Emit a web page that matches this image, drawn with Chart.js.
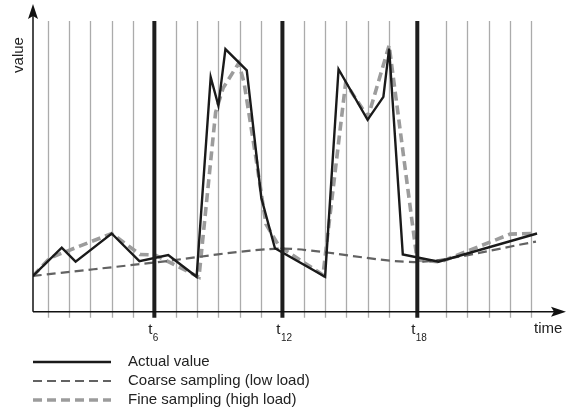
<!DOCTYPE html>
<html>
<head>
<meta charset="utf-8">
<script src="https://cdn.jsdelivr.net/npm/chart.js@4/dist/chart.umd.min.js"></script>
<style>
  html, body { margin: 0; padding: 0; background: #ffffff; }
  #wrap { width: 566px; height: 413px; }
</style>
</head>
<body>
<div id="wrap"><canvas id="c" width="566" height="413"></canvas></div>
<script>
// ---- data (time in sampling-interval units, value in 0..100) ----
const gridTimes = [1, 2, 3, 4, 5, 7, 8, 9, 10, 11, 13, 14, 15, 16, 17, 19.67, 20.67, 21.67, 22.67, 23.67];
const markTimes = [6, 12, 18.32];
const markLabels = ['6', '12', '18'];

const actualT = [0.31, 1.66, 2.31, 4.0, 5.30, 6.65, 7.98, 8.64, 9.0, 9.33, 10.33, 11.01, 11.65, 14.0, 14.63, 15.99, 16.73, 17.0, 17.64, 19.32, 23.93];
const actualV = [12.3, 22.0, 17.2, 26.9, 17.4, 19.5, 12.0, 80.7, 70.9, 90.3, 83.0, 39.2, 21.8, 12.0, 83.4, 66.0, 73.9, 90.5, 19.7, 17.2, 26.9];

const coarseT = [0.31, 6.0, 12.0, 18.32, 23.88];
const coarseV = [12.3, 16.9, 21.7, 17.1, 24.1];

const fineT = [0.31, 1.11, 4.0, 5.33, 6.03, 8.09, 8.87, 9.22, 9.95, 10.20, 10.76, 11.23, 11.84, 13.9, 14.96, 16.01, 17.0, 18.31, 19.39, 22.67, 23.76];
const fineV = [12.3, 18.5, 26.9, 19.7, 19.5, 11.9, 68.6, 76.9, 85.5, 78.9, 52.8, 30.1, 22.6, 12.6, 78.6, 66.9, 91.6, 17.8, 17.1, 26.7, 26.9];

const seriesNames = ['Actual value', 'Coarse sampling (low load)', 'Fine sampling (high load)'];
const xTitle = 'time';
const yTitle = 'value';

const pts = (t, v) => t.map((x, i) => ({ x: x, y: v[i] }));
const FONT = '"Liberation Sans", Arial, Helvetica, sans-serif';

const decor = {
  id: 'decor',
  beforeDatasetsDraw(chart) {
    const { ctx, chartArea: a, scales: { x } } = chart;
    ctx.save();
    ctx.strokeStyle = '#ababab';
    ctx.lineWidth = 1.3;
    gridTimes.forEach(t => {
      const px = Math.round(x.getPixelForValue(t)) + 0.5;
      ctx.beginPath(); ctx.moveTo(px, a.top); ctx.lineTo(px, a.bottom + 6); ctx.stroke();
    });
    ctx.restore();
  },
  afterDatasetsDraw(chart) {
    const { ctx, chartArea: a, scales: { x } } = chart;
    ctx.save();
    // thick marker lines
    ctx.strokeStyle = '#1e1e1e';
    ctx.lineWidth = 4;
    markTimes.forEach((t, i) => {
      const px = x.getPixelForValue(t);
      ctx.beginPath(); ctx.moveTo(px, a.top); ctx.lineTo(px, a.bottom + 6); ctx.stroke();
      ctx.fillStyle = '#222';
      ctx.font = '15px ' + FONT;
      ctx.textAlign = 'center'; ctx.textBaseline = 'alphabetic';
      ctx.fillText('t', px - 4, 334);
      ctx.font = '10px ' + FONT;
      ctx.textAlign = 'left';
      ctx.fillText(markLabels[i], px - 1.5, 341);
    });
    // axes
    ctx.strokeStyle = '#111';
    ctx.fillStyle = '#111';
    ctx.lineWidth = 1.5;
    const ox = a.left, oy = a.bottom;
    ctx.beginPath(); ctx.moveTo(ox, oy); ctx.lineTo(ox, 14); ctx.stroke();
    ctx.beginPath(); ctx.moveTo(ox, 4); ctx.lineTo(ox - 5, 19); ctx.lineTo(ox, 16); ctx.lineTo(ox + 5, 19); ctx.closePath(); ctx.fill();
    ctx.beginPath(); ctx.moveTo(ox, oy); ctx.lineTo(556, oy); ctx.stroke();
    ctx.beginPath(); ctx.moveTo(566, oy); ctx.lineTo(551, oy - 5); ctx.lineTo(554, oy); ctx.lineTo(551, oy + 5); ctx.closePath(); ctx.fill();
    // axis titles
    ctx.fillStyle = '#222';
    ctx.font = '15px ' + FONT;
    ctx.textAlign = 'left'; ctx.textBaseline = 'alphabetic';
    ctx.fillText(xTitle, 534, 333);
    ctx.save();
    ctx.translate(23, 55); ctx.rotate(-Math.PI / 2);
    ctx.textAlign = 'center';
    ctx.fillText(yTitle, 0, 0);
    ctx.restore();
    // legend
    const rows = [362, 381, 400];
    chart.data.datasets.forEach((ds, i) => {
      const y = rows[i];
      ctx.strokeStyle = ds.borderColor;
      ctx.lineWidth = ds.borderWidth;
      ctx.setLineDash(ds.borderDash || []);
      ctx.beginPath(); ctx.moveTo(33, y); ctx.lineTo(111, y); ctx.stroke();
      ctx.setLineDash([]);
      ctx.fillStyle = '#222';
      ctx.font = '15px ' + FONT;
      ctx.textAlign = 'left'; ctx.textBaseline = 'middle';
      ctx.fillText(ds.label, 128, y);
    });
    ctx.restore();
  }
};

new Chart(document.getElementById('c'), {
  type: 'line',
  data: {
    datasets: [
      { label: seriesNames[0], data: pts(actualT, actualV), borderColor: '#1a1a1a', borderWidth: 2.4, pointRadius: 0, tension: 0, fill: false },
      { label: seriesNames[1], data: pts(coarseT, coarseV), borderColor: '#626262', borderWidth: 2.2, borderDash: [9, 5], pointRadius: 0, tension: 0.25, fill: false },
      { label: seriesNames[2], data: pts(fineT, fineV), borderColor: '#9c9c9c', borderWidth: 3.6, borderDash: [9, 5], pointRadius: 0, tension: 0, fill: false }
    ]
  },
  options: {
    responsive: false,
    devicePixelRatio: 1,
    animation: false,
    layout: { padding: { left: 33, right: 1, top: 21, bottom: 101.3 } },
    plugins: { legend: { display: false }, tooltip: { enabled: false } },
    scales: {
      x: { type: 'linear', min: 0.314, max: 25.24, display: false },
      y: { type: 'linear', min: 0, max: 100, display: false }
    }
  },
  plugins: [decor]
});
</script>
</body>
</html>
